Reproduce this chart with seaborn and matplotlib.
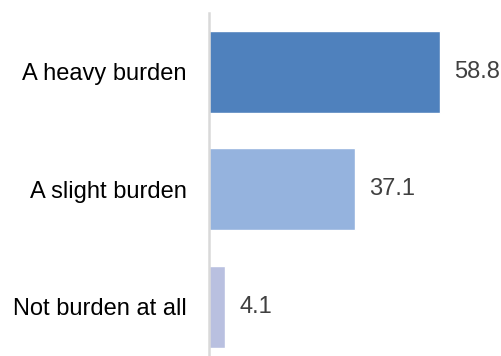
import matplotlib
matplotlib.use("Agg")
import matplotlib.pyplot as plt
import seaborn as sns
import pandas as pd

categories = ["A heavy burden", "A slight burden", "Not burden at all"]
values = [58.8, 37.1, 4.1]
colors = ["#4f81bd", "#95b3de", "#b9c0e0"]

sns.set_theme(style="white")
plt.rcParams["font.family"] = ["Liberation Sans", "DejaVu Sans"]

df = pd.DataFrame({"category": categories, "value": values})

fig = plt.figure(figsize=(5.02, 3.56), dpi=100)
ax = fig.add_axes([209 / 502, 0.0, 1 - 209 / 502, 343 / 356])

sns.barplot(data=df, x="value", y="category", hue="category",
            palette=colors, legend=False, width=0.70, ax=ax,
            saturation=1.0)

ax.set_xlim(0, 74.5)
ax.set_ylim(2.42, -0.50)

for i, v in enumerate(values):
    ax.text(v + 3.6, i, f"{v:.1f}", va="center", ha="left",
            fontsize=17, color="#404040")

ax.set_xlabel("")
ax.set_ylabel("")
ax.set_xticks([])
ax.tick_params(axis="y", length=0, pad=16, labelsize=17, labelcolor="#000000")
for side in ["top", "right", "bottom"]:
    ax.spines[side].set_visible(False)
ax.spines["left"].set_color("#d9d9d9")
ax.spines["left"].set_linewidth(1.8)

fig.savefig("out.png", dpi=100)
